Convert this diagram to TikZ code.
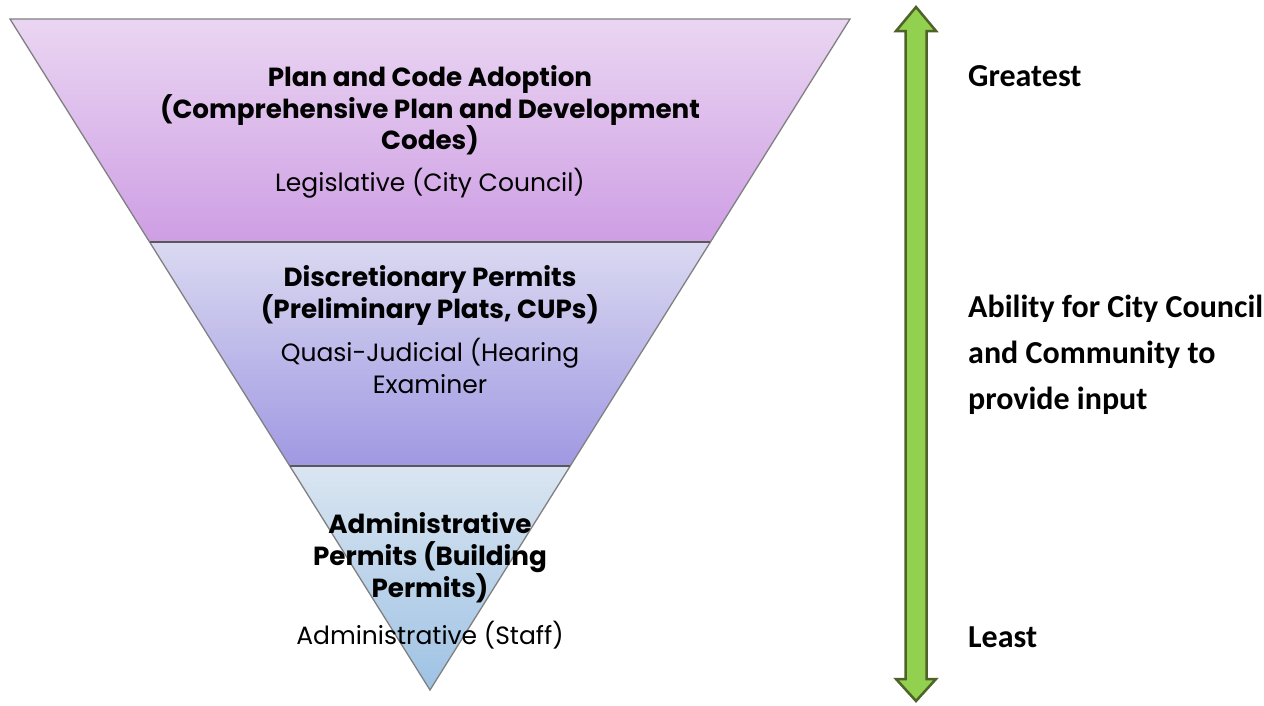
\documentclass[tikz,border=0pt]{standalone}
\usepackage{fontspec}
\setmainfont{Poppins}
\newfontfamily\sidefont{Carlito}
\begin{document}
\begin{tikzpicture}[x=1pt,y=-1pt,
  bandtext/.style={font=\fontsize{25}{30}\selectfont, anchor=base, inner sep=0pt},
  bandhead/.style={bandtext, font=\fontsize{26.2}{30}\selectfont\bfseries},
  sidetext/.style={font=\sidefont\fontsize{32}{38}\selectfont\bfseries, anchor=base west, inner sep=0pt},
  edge/.style={draw=black!50, line width=1.3pt, line join=miter},
  divider/.style={draw=black!65, line width=1.5pt}]
\useasboundingbox (0,0) rectangle (1264,705);

% inverted pyramid corners
\coordinate (tl) at (10,19);
\coordinate (tr) at (850,19);
\coordinate (ml) at (150,242);
\coordinate (mr) at (710,242);
\coordinate (bl) at (290,466);
\coordinate (br) at (570,466);
\coordinate (apex) at (430,690);

% bands
\shade[top color={rgb,255:red,234;green,214;blue,242}, bottom color={rgb,255:red,206;green,158;blue,228}]
  (tl) -- (tr) -- (mr) -- (ml) -- cycle;
\shade[top color={rgb,255:red,218;green,217;blue,241}, bottom color={rgb,255:red,160;green,152;blue,226}]
  (ml) -- (mr) -- (br) -- (bl) -- cycle;
\shade[top color={rgb,255:red,218;green,229;blue,241}, bottom color={rgb,255:red,158;green,194;blue,228}]
  (bl) -- (br) -- (apex) -- cycle;

% outline and dividers
\draw[edge] (tl) -- (tr) -- (apex) -- cycle;
\draw[divider] (ml) -- (mr);
\draw[divider] (bl) -- (br);

% band texts
\node[bandhead] (p1) at (430,86.5) {Plan and Code Adoption};
\node[bandhead] (p2) at (430,118) {(Comprehensive Plan and Development};
\node[bandhead] (p3) at (430,149) {Codes)};
\node[bandtext] (p4) at (430,191) {Legislative (City Council)};

\node[bandhead] (d1) at (430,286.5) {Discretionary Permits};
\node[bandhead] (d2) at (430,318) {(Preliminary Plats, CUPs)};
\node[bandtext] (d3) at (430,361) {Quasi-Judicial (Hearing};
\node[bandtext] (d4) at (430,393) {Examiner};

\node[bandhead] (a1) at (430,533) {Administrative};
\node[bandhead] (a2) at (430,565) {Permits (Building};
\node[bandhead] (a3) at (430,597) {Permits)};
\node[bandtext] (a4) at (430,644) {Administrative (Staff)};

% double-headed arrow
\filldraw[fill={rgb,255:red,146;green,208;blue,80}, draw={rgb,255:red,79;green,98;blue,40}, line width=2.5pt, line join=miter]
  (916,7) -- (936,31) -- (926.5,31) -- (926.5,679) -- (936,679) -- (916,701)
  -- (896,679) -- (905.5,679) -- (905.5,31) -- (896,31) -- cycle;

% side labels
\node[sidetext] (g) at (968,86) {Greatest};
\node[sidetext] (m1) at (968,317) {Ability for City Council};
\node[sidetext] (m2) at (968,363) {and Community to};
\node[sidetext] (m3) at (968,409) {provide input};
\node[sidetext] (l) at (968,647) {Least};
\end{tikzpicture}
\end{document}
